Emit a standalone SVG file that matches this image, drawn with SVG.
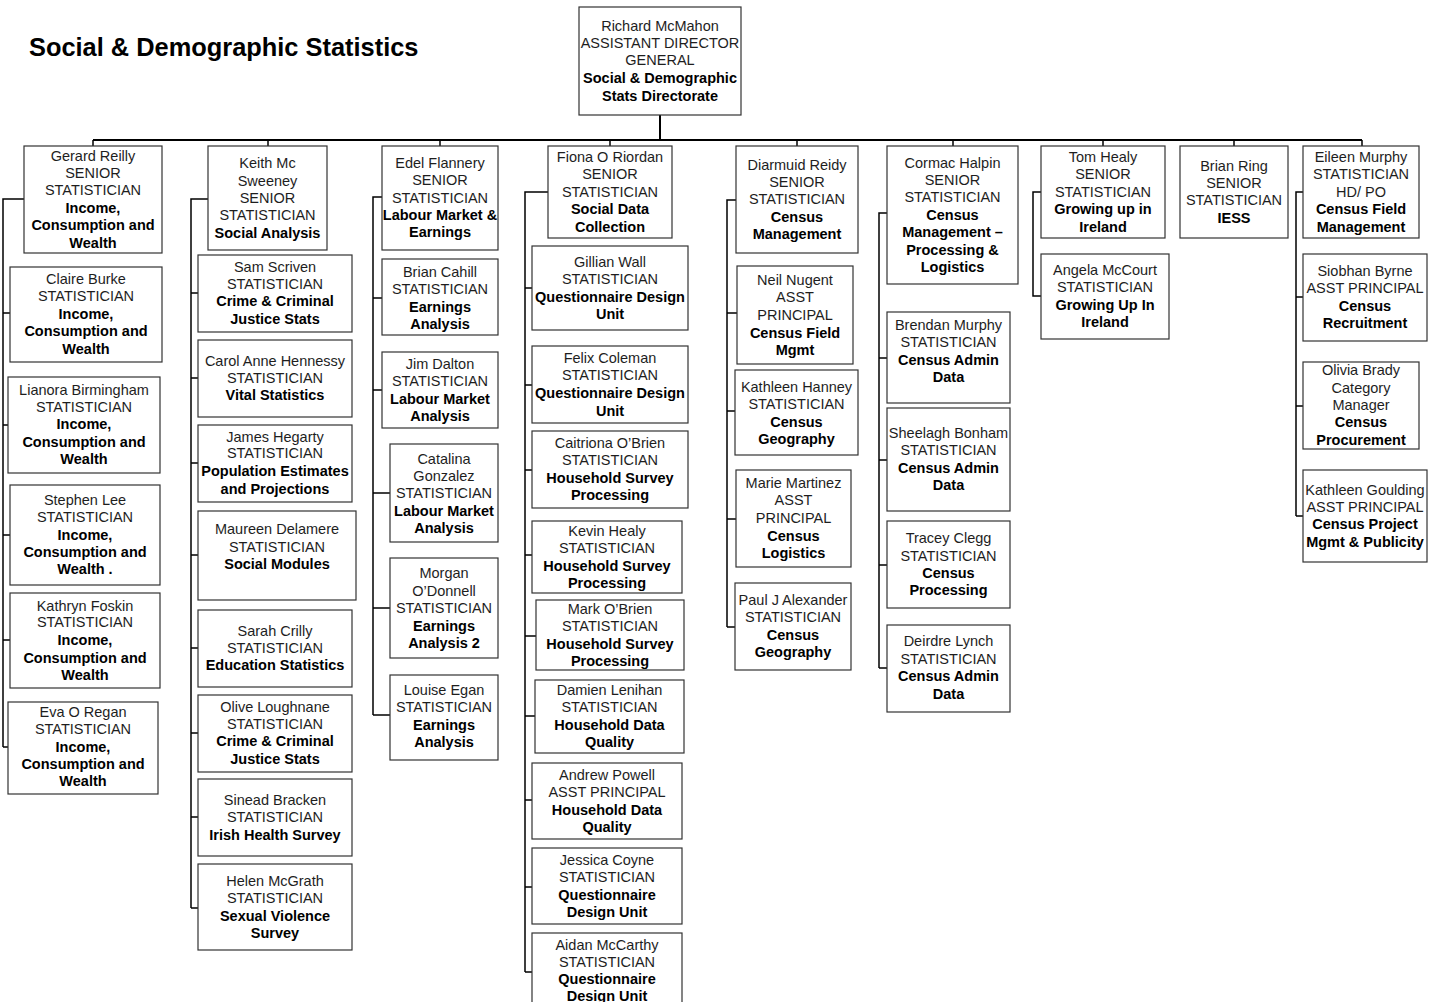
<svg xmlns="http://www.w3.org/2000/svg" width="1442" height="1002" viewBox="0 0 1442 1002">
<style>
rect{fill:#fff;stroke:#333;stroke-width:1.2}
text{font-family:"Liberation Sans",Arial,sans-serif;font-size:14.5px;fill:#1e1e1e;text-anchor:middle}
.b{font-weight:bold;fill:#000}
.title{font-size:25.4px;font-weight:bold;fill:#000;text-anchor:start}
.c path{fill:none;stroke:#000;stroke-width:1.5}
.c .bus{stroke-width:2}
</style>
<rect x="0" y="0" width="1442" height="1002" style="stroke:none"/>
<text class="title" x="29" y="56">Social &amp; Demographic Statistics</text>
<g class="c" id="connectors">
<path class="bus" d="M660 115V140M93 140H1362"/>
<path d="M93 140V146M268 140V146M440 140V146M610 140V146M797 140V146M953 140V146M1103 140V146M1234 140V146M1362 140V146"/>
<path d="M24 199H3V747M3 313H10M3 425H8M3 535H10M3 640H10M3 747H8"/>
<path d="M208 199H191V908M191 293H198M191 378H198M191 463H198M191 555H198M191 648H198M191 733H198M191 817H198M191 908H198"/>
<path d="M382 197H373V715M373 298H382M373 390H382M373 493H390M373 608H390M373 715H390"/>
<path d="M548 192H525V972M525 288H532M525 385H532M525 470H532M525 555H532M525 636H536M525 716H535M525 800H532M525 887H532M525 972H532"/>
<path d="M736 200H727V627M727 313H737M727 411H735M727 519H736M727 627H735"/>
<path d="M887 213H879V668M879 358H887M879 460H887M879 565H887M879 668H887"/>
<path d="M1041 192H1033V296H1041"/>
<path d="M1303 192H1296V516M1296 297H1303M1296 406H1303M1296 516H1303"/>
</g>
<g id="richard-mcmahon"><rect x="579" y="7" width="162" height="108"/><text><tspan x="660" y="31">Richard McMahon</tspan><tspan x="660" y="48">ASSISTANT DIRECTOR</tspan><tspan x="660" y="65">GENERAL</tspan><tspan class="b" x="660" y="83">Social &amp; Demographic</tspan><tspan class="b" x="660" y="101">Stats Directorate</tspan></text></g>
<g id="gerard-reilly"><rect x="24" y="146" width="138" height="107"/><text><tspan x="93" y="161">Gerard Reilly</tspan><tspan x="93" y="178">SENIOR</tspan><tspan x="93" y="195">STATISTICIAN</tspan><tspan class="b" x="93" y="213">Income,</tspan><tspan class="b" x="93" y="230">Consumption and</tspan><tspan class="b" x="93" y="248">Wealth</tspan></text></g>
<g id="claire-burke"><rect x="10" y="267" width="152" height="95"/><text><tspan x="86" y="284">Claire Burke</tspan><tspan x="86" y="301">STATISTICIAN</tspan><tspan class="b" x="86" y="319">Income,</tspan><tspan class="b" x="86" y="336">Consumption and</tspan><tspan class="b" x="86" y="354">Wealth</tspan></text></g>
<g id="lianora-birmingham"><rect x="8" y="377" width="152" height="96"/><text><tspan x="84" y="395">Lianora Birmingham</tspan><tspan x="84" y="412">STATISTICIAN</tspan><tspan class="b" x="84" y="429">Income,</tspan><tspan class="b" x="84" y="447">Consumption and</tspan><tspan class="b" x="84" y="464">Wealth</tspan></text></g>
<g id="stephen-lee"><rect x="10" y="485" width="150" height="100"/><text><tspan x="85" y="505">Stephen Lee</tspan><tspan x="85" y="522">STATISTICIAN</tspan><tspan class="b" x="85" y="540">Income,</tspan><tspan class="b" x="85" y="557">Consumption and</tspan><tspan class="b" x="85" y="574">Wealth .</tspan></text></g>
<g id="kathryn-foskin"><rect x="10" y="593" width="150" height="95"/><text><tspan x="85" y="611">Kathryn Foskin</tspan><tspan x="85" y="627">STATISTICIAN</tspan><tspan class="b" x="85" y="645">Income,</tspan><tspan class="b" x="85" y="663">Consumption and</tspan><tspan class="b" x="85" y="680">Wealth</tspan></text></g>
<g id="eva-o-regan"><rect x="8" y="702" width="150" height="92"/><text><tspan x="83" y="717">Eva O Regan</tspan><tspan x="83" y="734">STATISTICIAN</tspan><tspan class="b" x="83" y="752">Income,</tspan><tspan class="b" x="83" y="769">Consumption and</tspan><tspan class="b" x="83" y="786">Wealth</tspan></text></g>
<g id="keith-mc-sweeney"><rect x="208" y="146" width="119" height="104"/><text><tspan x="267.5" y="168">Keith Mc</tspan><tspan x="267.5" y="186">Sweeney</tspan><tspan x="267.5" y="203">SENIOR</tspan><tspan x="267.5" y="220">STATISTICIAN</tspan><tspan class="b" x="267.5" y="238">Social Analysis</tspan></text></g>
<g id="sam-scriven"><rect x="198" y="255" width="154" height="77"/><text><tspan x="275" y="272">Sam Scriven</tspan><tspan x="275" y="289">STATISTICIAN</tspan><tspan class="b" x="275" y="306">Crime &amp; Criminal</tspan><tspan class="b" x="275" y="324">Justice Stats</tspan></text></g>
<g id="carol-anne-hennessy"><rect x="198" y="340" width="154" height="77"/><text><tspan x="275" y="366">Carol Anne Hennessy</tspan><tspan x="275" y="383">STATISTICIAN</tspan><tspan class="b" x="275" y="400">Vital Statistics</tspan></text></g>
<g id="james-hegarty"><rect x="198" y="425" width="154" height="77"/><text><tspan x="275" y="442">James Hegarty</tspan><tspan x="275" y="458">STATISTICIAN</tspan><tspan class="b" x="275" y="476">Population Estimates</tspan><tspan class="b" x="275" y="494">and Projections</tspan></text></g>
<g id="maureen-delamere"><rect x="198" y="511" width="158" height="89"/><text><tspan x="277" y="534">Maureen Delamere</tspan><tspan x="277" y="552">STATISTICIAN</tspan><tspan class="b" x="277" y="569">Social Modules</tspan></text></g>
<g id="sarah-crilly"><rect x="198" y="610" width="154" height="77"/><text><tspan x="275" y="636">Sarah Crilly</tspan><tspan x="275" y="653">STATISTICIAN</tspan><tspan class="b" x="275" y="670">Education Statistics</tspan></text></g>
<g id="olive-loughnane"><rect x="198" y="695" width="154" height="77"/><text><tspan x="275" y="712">Olive Loughnane</tspan><tspan x="275" y="729">STATISTICIAN</tspan><tspan class="b" x="275" y="746">Crime &amp; Criminal</tspan><tspan class="b" x="275" y="764">Justice Stats</tspan></text></g>
<g id="sinead-bracken"><rect x="198" y="779" width="154" height="77"/><text><tspan x="275" y="805">Sinead Bracken</tspan><tspan x="275" y="822">STATISTICIAN</tspan><tspan class="b" x="275" y="840">Irish Health Survey</tspan></text></g>
<g id="helen-mcgrath"><rect x="198" y="864" width="154" height="86"/><text><tspan x="275" y="886">Helen McGrath</tspan><tspan x="275" y="903">STATISTICIAN</tspan><tspan class="b" x="275" y="921">Sexual Violence</tspan><tspan class="b" x="275" y="938">Survey</tspan></text></g>
<g id="edel-flannery"><rect x="382" y="146" width="116" height="104"/><text><tspan x="440" y="168">Edel Flannery</tspan><tspan x="440" y="185">SENIOR</tspan><tspan x="440" y="203">STATISTICIAN</tspan><tspan class="b" x="440" y="220">Labour Market &amp;</tspan><tspan class="b" x="440" y="237">Earnings</tspan></text></g>
<g id="brian-cahill"><rect x="382" y="259" width="116" height="76"/><text><tspan x="440" y="277">Brian Cahill</tspan><tspan x="440" y="294">STATISTICIAN</tspan><tspan class="b" x="440" y="312">Earnings</tspan><tspan class="b" x="440" y="329">Analysis</tspan></text></g>
<g id="jim-dalton"><rect x="382" y="352" width="116" height="76"/><text><tspan x="440" y="369">Jim Dalton</tspan><tspan x="440" y="386">STATISTICIAN</tspan><tspan class="b" x="440" y="404">Labour Market</tspan><tspan class="b" x="440" y="421">Analysis</tspan></text></g>
<g id="catalina-gonzalez"><rect x="390" y="444" width="108" height="98"/><text><tspan x="444" y="464">Catalina</tspan><tspan x="444" y="481">Gonzalez</tspan><tspan x="444" y="498">STATISTICIAN</tspan><tspan class="b" x="444" y="516">Labour Market</tspan><tspan class="b" x="444" y="533">Analysis</tspan></text></g>
<g id="morgan-odonnell"><rect x="390" y="558" width="108" height="100"/><text><tspan x="444" y="578">Morgan</tspan><tspan x="444" y="596">O’Donnell</tspan><tspan x="444" y="613">STATISTICIAN</tspan><tspan class="b" x="444" y="631">Earnings</tspan><tspan class="b" x="444" y="648">Analysis 2</tspan></text></g>
<g id="louise-egan"><rect x="390" y="675" width="108" height="85"/><text><tspan x="444" y="695">Louise Egan</tspan><tspan x="444" y="712">STATISTICIAN</tspan><tspan class="b" x="444" y="730">Earnings</tspan><tspan class="b" x="444" y="747">Analysis</tspan></text></g>
<g id="fiona-o-riordan"><rect x="548" y="146" width="124" height="92"/><text><tspan x="610" y="162">Fiona O Riordan</tspan><tspan x="610" y="179">SENIOR</tspan><tspan x="610" y="197">STATISTICIAN</tspan><tspan class="b" x="610" y="214">Social Data</tspan><tspan class="b" x="610" y="232">Collection</tspan></text></g>
<g id="gillian-wall"><rect x="532" y="246" width="156" height="84"/><text><tspan x="610" y="267">Gillian Wall</tspan><tspan x="610" y="284">STATISTICIAN</tspan><tspan class="b" x="610" y="302">Questionnaire Design</tspan><tspan class="b" x="610" y="319">Unit</tspan></text></g>
<g id="felix-coleman"><rect x="532" y="346" width="156" height="77"/><text><tspan x="610" y="363">Felix Coleman</tspan><tspan x="610" y="380">STATISTICIAN</tspan><tspan class="b" x="610" y="398">Questionnaire Design</tspan><tspan class="b" x="610" y="416">Unit</tspan></text></g>
<g id="caitriona-obrien"><rect x="532" y="431" width="156" height="77"/><text><tspan x="610" y="448">Caitriona O’Brien</tspan><tspan x="610" y="465">STATISTICIAN</tspan><tspan class="b" x="610" y="483">Household Survey</tspan><tspan class="b" x="610" y="500">Processing</tspan></text></g>
<g id="kevin-healy"><rect x="532" y="521" width="150" height="72"/><text><tspan x="607" y="536">Kevin Healy</tspan><tspan x="607" y="553">STATISTICIAN</tspan><tspan class="b" x="607" y="571">Household Survey</tspan><tspan class="b" x="607" y="588">Processing</tspan></text></g>
<g id="mark-obrien"><rect x="536" y="600" width="148" height="70"/><text><tspan x="610" y="614">Mark O’Brien</tspan><tspan x="610" y="631">STATISTICIAN</tspan><tspan class="b" x="610" y="649">Household Survey</tspan><tspan class="b" x="610" y="666">Processing</tspan></text></g>
<g id="damien-lenihan"><rect x="535" y="680" width="149" height="73"/><text><tspan x="609.5" y="695">Damien Lenihan</tspan><tspan x="609.5" y="712">STATISTICIAN</tspan><tspan class="b" x="609.5" y="730">Household Data</tspan><tspan class="b" x="609.5" y="747">Quality</tspan></text></g>
<g id="andrew-powell"><rect x="532" y="763" width="150" height="76"/><text><tspan x="607" y="780">Andrew Powell</tspan><tspan x="607" y="797">ASST PRINCIPAL</tspan><tspan class="b" x="607" y="815">Household Data</tspan><tspan class="b" x="607" y="832">Quality</tspan></text></g>
<g id="jessica-coyne"><rect x="532" y="848" width="150" height="76"/><text><tspan x="607" y="865">Jessica Coyne</tspan><tspan x="607" y="882">STATISTICIAN</tspan><tspan class="b" x="607" y="900">Questionnaire</tspan><tspan class="b" x="607" y="917">Design Unit</tspan></text></g>
<g id="aidan-mccarthy"><rect x="532" y="933" width="150" height="80"/><text><tspan x="607" y="950">Aidan McCarthy</tspan><tspan x="607" y="967">STATISTICIAN</tspan><tspan class="b" x="607" y="984">Questionnaire</tspan><tspan class="b" x="607" y="1001">Design Unit</tspan></text></g>
<g id="diarmuid-reidy"><rect x="736" y="146" width="122" height="107"/><text><tspan x="797" y="170">Diarmuid Reidy</tspan><tspan x="797" y="187">SENIOR</tspan><tspan x="797" y="204">STATISTICIAN</tspan><tspan class="b" x="797" y="222">Census</tspan><tspan class="b" x="797" y="239">Management</tspan></text></g>
<g id="neil-nugent"><rect x="737" y="266" width="116" height="98"/><text><tspan x="795" y="285">Neil Nugent</tspan><tspan x="795" y="302">ASST</tspan><tspan x="795" y="320">PRINCIPAL</tspan><tspan class="b" x="795" y="338">Census Field</tspan><tspan class="b" x="795" y="355">Mgmt</tspan></text></g>
<g id="kathleen-hanney"><rect x="735" y="370" width="123" height="85"/><text><tspan x="796.5" y="392">Kathleen Hanney</tspan><tspan x="796.5" y="409">STATISTICIAN</tspan><tspan class="b" x="796.5" y="427">Census</tspan><tspan class="b" x="796.5" y="444">Geography</tspan></text></g>
<g id="marie-martinez"><rect x="736" y="470" width="115" height="97"/><text><tspan x="793.5" y="488">Marie Martinez</tspan><tspan x="793.5" y="505">ASST</tspan><tspan x="793.5" y="523">PRINCIPAL</tspan><tspan class="b" x="793.5" y="541">Census</tspan><tspan class="b" x="793.5" y="558">Logistics</tspan></text></g>
<g id="paul-j-alexander"><rect x="735" y="583" width="116" height="87"/><text><tspan x="793" y="605">Paul J Alexander</tspan><tspan x="793" y="622">STATISTICIAN</tspan><tspan class="b" x="793" y="640">Census</tspan><tspan class="b" x="793" y="657">Geography</tspan></text></g>
<g id="cormac-halpin"><rect x="887" y="146" width="131" height="138"/><text><tspan x="952.5" y="168">Cormac Halpin</tspan><tspan x="952.5" y="185">SENIOR</tspan><tspan x="952.5" y="202">STATISTICIAN</tspan><tspan class="b" x="952.5" y="220">Census</tspan><tspan class="b" x="952.5" y="237">Management –</tspan><tspan class="b" x="952.5" y="255">Processing &amp;</tspan><tspan class="b" x="952.5" y="272">Logistics</tspan></text></g>
<g id="brendan-murphy"><rect x="887" y="312" width="123" height="91"/><text><tspan x="948.5" y="330">Brendan Murphy</tspan><tspan x="948.5" y="347">STATISTICIAN</tspan><tspan class="b" x="948.5" y="365">Census Admin</tspan><tspan class="b" x="948.5" y="382">Data</tspan></text></g>
<g id="sheelagh-bonham"><rect x="887" y="408" width="123" height="103"/><text><tspan x="948.5" y="438">Sheelagh Bonham</tspan><tspan x="948.5" y="455">STATISTICIAN</tspan><tspan class="b" x="948.5" y="473">Census Admin</tspan><tspan class="b" x="948.5" y="490">Data</tspan></text></g>
<g id="tracey-clegg"><rect x="887" y="521" width="123" height="87"/><text><tspan x="948.5" y="543">Tracey Clegg</tspan><tspan x="948.5" y="561">STATISTICIAN</tspan><tspan class="b" x="948.5" y="578">Census</tspan><tspan class="b" x="948.5" y="595">Processing</tspan></text></g>
<g id="deirdre-lynch"><rect x="887" y="625" width="123" height="87"/><text><tspan x="948.5" y="646">Deirdre Lynch</tspan><tspan x="948.5" y="664">STATISTICIAN</tspan><tspan class="b" x="948.5" y="681">Census Admin</tspan><tspan class="b" x="948.5" y="699">Data</tspan></text></g>
<g id="tom-healy"><rect x="1041" y="146" width="124" height="92"/><text><tspan x="1103" y="162">Tom Healy</tspan><tspan x="1103" y="179">SENIOR</tspan><tspan x="1103" y="197">STATISTICIAN</tspan><tspan class="b" x="1103" y="214">Growing up in</tspan><tspan class="b" x="1103" y="232">Ireland</tspan></text></g>
<g id="angela-mccourt"><rect x="1041" y="254" width="128" height="85"/><text><tspan x="1105" y="275">Angela McCourt</tspan><tspan x="1105" y="292">STATISTICIAN</tspan><tspan class="b" x="1105" y="310">Growing Up In</tspan><tspan class="b" x="1105" y="327">Ireland</tspan></text></g>
<g id="brian-ring"><rect x="1180" y="146" width="108" height="92"/><text><tspan x="1234" y="171">Brian Ring</tspan><tspan x="1234" y="188">SENIOR</tspan><tspan x="1234" y="205">STATISTICIAN</tspan><tspan class="b" x="1234" y="223">IESS</tspan></text></g>
<g id="eileen-murphy"><rect x="1303" y="146" width="116" height="92"/><text><tspan x="1361" y="162">Eileen Murphy</tspan><tspan x="1361" y="179">STATISTICIAN</tspan><tspan x="1361" y="197">HD/ PO</tspan><tspan class="b" x="1361" y="214">Census Field</tspan><tspan class="b" x="1361" y="232">Management</tspan></text></g>
<g id="siobhan-byrne"><rect x="1303" y="254" width="124" height="87"/><text><tspan x="1365" y="276">Siobhan Byrne</tspan><tspan x="1365" y="293">ASST PRINCIPAL</tspan><tspan class="b" x="1365" y="311">Census</tspan><tspan class="b" x="1365" y="328">Recruitment</tspan></text></g>
<g id="olivia-brady"><rect x="1303" y="362" width="116" height="87"/><text><tspan x="1361" y="375">Olivia Brady</tspan><tspan x="1361" y="393">Category</tspan><tspan x="1361" y="410">Manager</tspan><tspan class="b" x="1361" y="427">Census</tspan><tspan class="b" x="1361" y="445">Procurement</tspan></text></g>
<g id="kathleen-goulding"><rect x="1303" y="470" width="124" height="92"/><text><tspan x="1365" y="495">Kathleen Goulding</tspan><tspan x="1365" y="512">ASST PRINCIPAL</tspan><tspan class="b" x="1365" y="529">Census Project</tspan><tspan class="b" x="1365" y="547">Mgmt &amp; Publicity</tspan></text></g>
</svg>
